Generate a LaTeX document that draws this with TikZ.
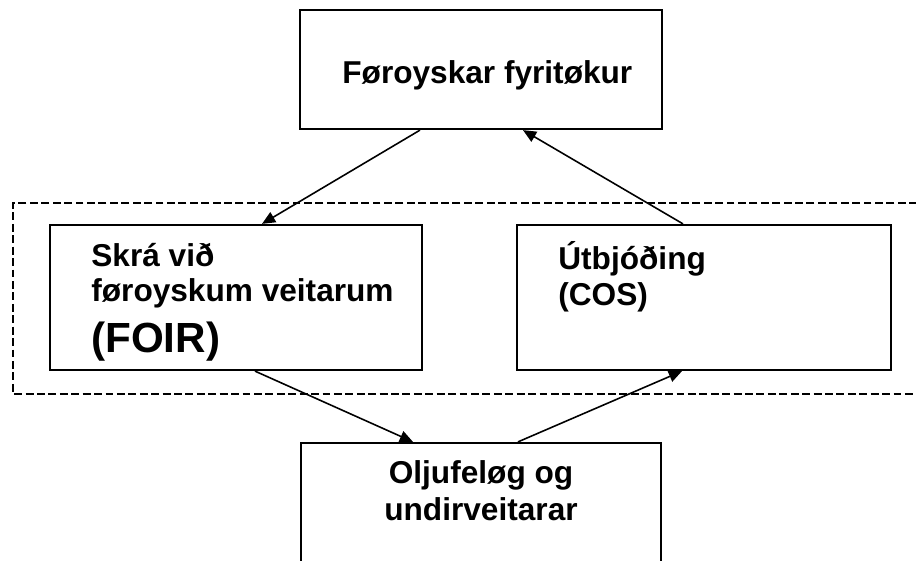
\documentclass[tikz,border=0pt]{standalone}
\usepackage{fontspec}
\setmainfont{Liberation Sans}
\usetikzlibrary{arrows.meta,calc}
\begin{document}
\begin{tikzpicture}[x=0.02cm,y=-0.02cm,
  box/.style={draw,line width=1.3pt,inner sep=0pt},
  lbl/.style={anchor=base west,inner sep=0pt,font=\fontsize{18}{21}\selectfont\bfseries},
  pil/.style={line width=0.9pt,-{Triangle[length=7.5pt,width=6.5pt]}}]
\useasboundingbox (0,0) rectangle (916,561);
\draw[line width=0.9pt,dash pattern=on 4.5pt off 2pt] (940,203) -- (13,203) -- (13,394) -- (940,394); % frame round the middle row
\node[box,minimum width=7.24cm,minimum height=2.38cm] (top) at (481,69.5) {};
\node[box,minimum width=7.44cm,minimum height=2.9cm] (reg) at (236,297.5) {};
\node[box,minimum width=7.48cm,minimum height=2.9cm] (cos) at (704,297.5) {};
\node[box,minimum width=7.2cm,minimum height=2.38cm] (olju) at (481,502.5) {};
\node[lbl] (topA) at (342,83) {Føroyskar fyritøkur};
\node[lbl] (regA) at (91,266) {Skrá við};
\node[lbl] (regB) at (91,301) {føroyskum veitarum};
\node[lbl,font=\fontsize{24}{28}\selectfont\bfseries] (regC) at (91,352) {(FOIR)};
\node[lbl] (cosA) at (558,269) {Útbjóðing};
\node[lbl] (cosB) at (558,305) {(COS)};
\node[lbl,anchor=base] (oljuA) at (481,483) {Oljufeløg og};
\node[lbl,anchor=base] (oljuB) at (481,520) {undirveitarar};
\draw[pil] ($(top.south)+(-61,0)$) -- ($(reg.north)+(26,0)$);
\draw[pil] ($(cos.north)+(-21,0)$) -- ($(top.south)+(42,0)$);
\draw[pil] ($(reg.south)+(19,0)$) -- ($(olju.north)+(-68,0)$);
\draw[pil] ($(olju.north)+(37,0)$) -- ($(cos.south)+(-22,0)$);
\end{tikzpicture}
\end{document}
